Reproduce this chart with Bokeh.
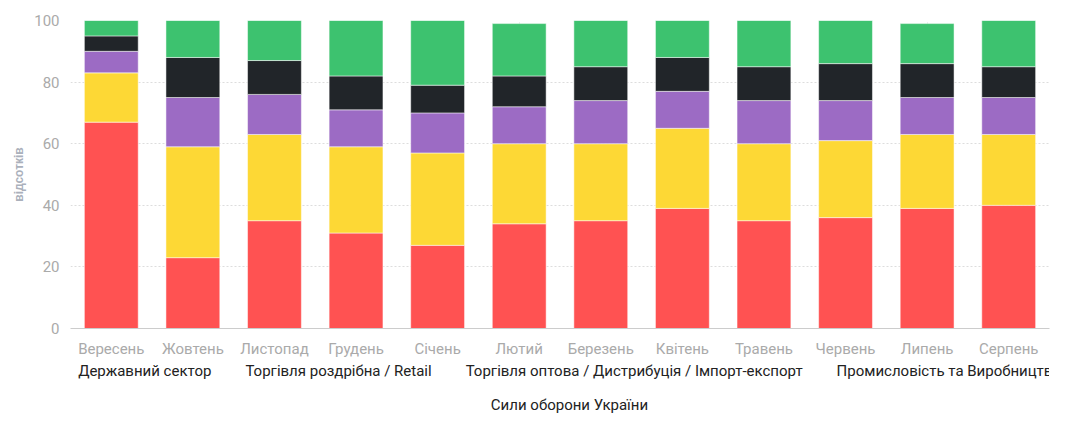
from bokeh.plotting import figure
from bokeh.layouts import column
from bokeh.models import Legend, LegendItem, ColumnDataSource
from bokeh.embed import file_html
from bokeh.resources import INLINE

months = ["Вересень","Жовтень","Листопад","Грудень","Січень","Лютий","Березень","Квітень","Травень","Червень","Липень","Серпень"]
gov = [67,23,35,31,27,34,35,39,35,36,39,40]
retail = [16,36,28,28,30,26,25,26,25,25,24,23]
wholesale = [7,16,13,12,13,12,14,12,14,13,12,12]
industry = [5,13,11,11,9,10,11,11,11,12,11,10]
army = [5,12,13,18,21,17,15,12,15,14,13,15]
names = ["Державний сектор","Торгівля роздрібна / Retail","Торгівля оптова / Дистрибуція / Імпорт-експорт","Промисловість та Виробництво","Сили оборони України"]
keys = ["gov","retail","wholesale","industry","army"]
colors = ["#FF5252","#FDD835","#9C6BC4","#212529","#3DC26F"]

src = ColumnDataSource(dict(months=months, gov=gov, retail=retail, wholesale=wholesale, industry=industry, army=army))
p = figure(x_range=months, y_range=(0,100), width=1059, height=360, output_backend="svg", toolbar_location=None,
           min_border_left=70, min_border_right=10, min_border_top=20, min_border_bottom=10)
p.vbar_stack(keys, x="months", width=0.66, color=colors, source=src, line_color="white", line_width=0.5)
p.xgrid.grid_line_dash = "2 2"; p.ygrid.grid_line_dash = "2 2"
p.xgrid.grid_line_color = "#dddddd"; p.ygrid.grid_line_color = "#dddddd"
p.outline_line_color = None
for ax in (p.xaxis[0], p.yaxis[0]):
    ax.axis_line_color = "#cccccc"; ax.major_tick_line_color = None; ax.minor_tick_line_color = None
    ax.major_label_text_color = "#aaaaaa"; ax.major_label_text_font_size = "15px"
    ax.major_label_text_font = "Roboto"
p.yaxis.axis_line_color = None
p.yaxis.ticker = [0,20,40,60,80,100]
p.yaxis.axis_label = "відсотків"
p.yaxis.axis_label_text_font_size = "12px"; p.yaxis.axis_label_text_color = "#aab0bb"
p.yaxis.axis_label_text_font_style = "bold"

lf = figure(width=1059, height=56, output_backend="svg", toolbar_location=None, x_range=(0,1), y_range=(0,1),
            min_border=0, outline_line_color=None)
lf.axis.visible = False; lf.grid.visible = False
empty = ColumnDataSource(dict(x=[], y=[]))
rs = [lf.scatter("x", "y", source=empty, marker="square", size=16, color=c) for c in colors]
l1 = Legend(items=[LegendItem(label=names[i], renderers=[rs[i]]) for i in range(4)], orientation="horizontal", location="top_center")
l2 = Legend(items=[LegendItem(label=names[4], renderers=[rs[4]])], orientation="horizontal", location="bottom_center")
for l in (l1, l2):
    l.label_text_font = "Roboto"; l.label_text_font_size = "15px"; l.label_text_color = "#222222"
    l.border_line_color = None; l.background_fill_alpha = 0; l.padding = 2; l.margin = 2; l.spacing = 14
    l.glyph_width = 16; l.glyph_height = 16; l.label_standoff = 4
    lf.add_layout(l)
open("out.html","w").write(file_html(column(p, lf, spacing=0), INLINE))
